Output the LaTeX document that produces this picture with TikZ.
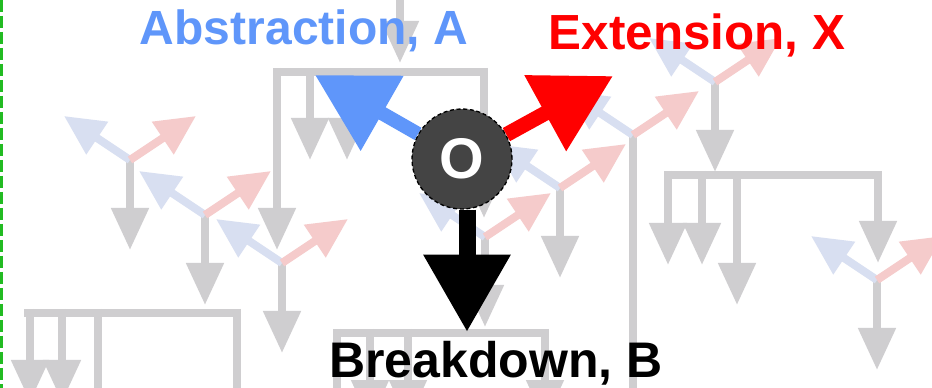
\documentclass[tikz,border=0pt]{standalone}
\usepackage{fontspec}
\setmainfont{Liberation Sans}
\usetikzlibrary{arrows.meta,calc}
\definecolor{bgrey}{RGB}{207,206,208}
\definecolor{fblue}{RGB}{216,223,241}
\definecolor{fred}{RGB}{245,203,203}
\definecolor{mblue}{RGB}{95,150,250}
\definecolor{mred}{RGB}{255,0,0}
\definecolor{ogrey}{RGB}{68,68,68}
\definecolor{dgreen}{RGB}{34,187,34}
\begin{document}
\begin{tikzpicture}[x=0.75pt,y=-0.75pt,
  gline/.style={draw=bgrey,line width=6pt},
  garrow/.style={gline,-{Triangle[length=31.5pt,width=27pt]}},
  fbarrow/.style={draw=fblue,line width=6pt,-{Triangle[length=30pt,width=28pt]}},
  frarrow/.style={draw=fred,line width=6pt,-{Triangle[length=30pt,width=28pt]}},
  bigarrow/.style={-{Triangle[length=58pt,width=62pt]}},
  lbl/.style={font=\bfseries\fontsize{36}{40}\selectfont,anchor=base,inner sep=0pt}
]
\useasboundingbox (0,0) rectangle (932,388);
\clip (0,0) rectangle (932,388);
\fill[white] (0,0) rectangle (932,388);

% green dashed border
\draw[dgreen,line width=2.25pt,dash pattern=on 9pt off 3pt] (1.5,0) -- (1.5,388);

% junctions
\foreach \n/\x/\y in {J1/130/160,J2/205/215,J3/282/263,J4/485/237,J5/560/188,J6/633/135,J7/715/82,J8/877/280}
  {\coordinate (\n) at (\x,\y);}

% grey bars
\draw[gline] (273,72) -- (488,72);
\draw[garrow] (277,68) -- (277,250);
\draw[garrow] (310,68) -- (310,160);
\draw[garrow] (347,68) -- (347,160);
\draw[garrow] (484,68) -- (484,218);
\draw[garrow] (400,-10) -- (400,63);

\draw[gline] (664,175) -- (882,175);
\draw[garrow] (668,171) -- (668,265);
\draw[garrow] (702,171) -- (702,265);
\draw[garrow] (737,171) -- (737,305);
\draw[garrow] (878,171) -- (878,263);

\draw[gline] (24,313) -- (241,313);
\draw[garrow] (30,309) -- (30,402);
\draw[garrow] (62,309) -- (62,402);
\draw[gline] (98,309) -- (98,400);
\draw[gline] (237,309) -- (237,400);

\draw[gline] (333,333) -- (549,333);
\draw[gline] (337,329) -- (337,400);
\draw[garrow] (370,329) -- (370,422);
\draw[garrow] (408,329) -- (408,422);
\draw[garrow] (545,329) -- (545,422);

% junction arrows
\foreach \n in {J1,J2,J3,J4,J5,J7,J8} {\draw[garrow] (\n) -- ++(0,90);}
\draw[gline] (J6) -- ++(0,280);
\foreach \n in {J1,J2,J3,J4,J5,J6,J7,J8} {
  \draw[fbarrow] (\n) -- ++(-66,-44);
  \draw[frarrow] (\n) -- ++(66,-44);
}

% labels
\node[lbl,text=mblue] (tA) at (304,45) {Abstraction, A};
\node[lbl,text=mred,font=\bfseries\fontsize{37}{40}\selectfont] (tX) at (697,50) {Extension, X};
\node[lbl,text=black,font=\bfseries\fontsize{37.5}{40}\selectfont] (tB) at (496,378) {Breakdown, B};

% central node
\node[circle,fill=ogrey,draw=black,densely dashed,line width=1pt,minimum size=75pt,inner sep=0pt,text=white,font=\bfseries\fontsize{43}{43}\selectfont] (O) at (462,159) {O};
\coordinate (tipA) at ($(O)+(-147,-84)$);
\coordinate (tipX) at ($(O)+(151,-83)$);
\coordinate (tipB) at (467,332);
\draw[bigarrow,mblue,line width=10.5pt] (O) -- (tipA);
\draw[bigarrow,mred,line width=11.25pt] (O) -- (tipX);
\draw[bigarrow,black,line width=12.75pt] ([xshift=3.75pt]O.south) -- (tipB);
\end{tikzpicture}
\end{document}
